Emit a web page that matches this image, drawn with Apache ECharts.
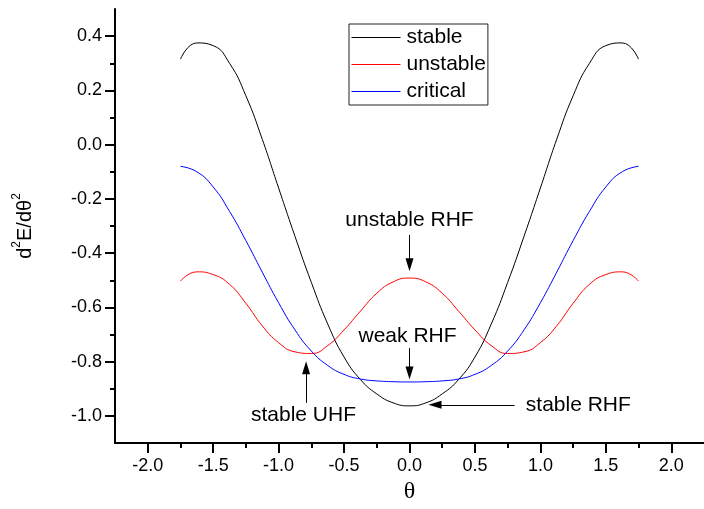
<!DOCTYPE html>
<html>
<head>
<meta charset="utf-8">
<script src="https://cdn.jsdelivr.net/npm/echarts@6/dist/echarts.min.js"></script>
<style>html,body{margin:0;padding:0;background:#fff;}#c{width:704px;height:509px;}</style>
</head>
<body>
<div id="c"></div>
<script>
const theta = [-1.75,-1.625,-1.5,-1.375,-1.25,-1.125,-1.0,-0.875,-0.75,-0.625,-0.5,-0.375,-0.25,-0.125,0,
  0.125,0.25,0.375,0.5,0.625,0.75,0.875,1.0,1.125,1.25,1.375,1.5,1.625,1.75];
const stable = [0.315,0.375,0.365,0.300,0.180,0.020,-0.160,-0.338,-0.508,-0.661,-0.783,-0.866,-0.919,-0.952,-0.963,
  -0.952,-0.919,-0.866,-0.783,-0.661,-0.508,-0.338,-0.160,0.020,0.180,0.300,0.365,0.375,0.315];
const unstable = [-0.503,-0.469,-0.479,-0.515,-0.585,-0.668,-0.730,-0.764,-0.770,-0.741,-0.683,-0.614,-0.548,-0.506,-0.492,
  -0.506,-0.548,-0.614,-0.683,-0.741,-0.770,-0.764,-0.730,-0.668,-0.585,-0.515,-0.479,-0.469,-0.503];
const critical = [-0.080,-0.100,-0.156,-0.246,-0.354,-0.470,-0.583,-0.683,-0.761,-0.814,-0.847,-0.864,-0.871,-0.874,-0.875,
  -0.874,-0.871,-0.864,-0.847,-0.814,-0.761,-0.683,-0.583,-0.470,-0.354,-0.246,-0.156,-0.100,-0.080];
const xMajorTicks = [-2.0,-1.5,-1.0,-0.5,0.0,0.5,1.0,1.5,2.0];
const xMinorTicks = [-1.75,-1.25,-0.75,-0.25,0.25,0.75,1.25,1.75];
const yMajorTicks = [-1.0,-0.8,-0.6,-0.4,-0.2,0.0,0.2,0.4];
const yMinorTicks = [-0.9,-0.7,-0.5,-0.3,-0.1,0.1,0.3];
const seriesNames = ['stable','unstable','critical'];
const seriesColors = ['#000000','#ff0000','#0000ff'];
// annotations: [label, x, y]
const notes = [['unstable RHF',0,-0.28],['weak RHF',-0.015,-0.707],['stable UHF',-0.81,-0.996],['stable RHF',1.29,-0.962]];
// arrows: [x0,y0,x1,y1] (tip at x1,y1)
const arrows = [[0,-0.333,0,-0.443],[0,-0.75,0,-0.842],[-0.79,-0.952,-0.79,-0.823],[0.803,-0.959,0.195,-0.959]];

const FONT = 'Liberation Sans, Arial, sans-serif';
const chart = echarts.init(document.getElementById('c'), null, {renderer:'canvas'});
const toPairs = arr => theta.map((t,i)=>[t,arr[i]]);
const fmt1 = v => Number(v).toFixed(1);

const baseX = {type:'value', min:-2.25, max:2.25, position:'bottom', splitLine:{show:false}};
const baseY = {type:'value', min:-1.1, max:0.5, position:'left', splitLine:{show:false}};

const lineSeries = seriesNames.map((n,i)=>({
  name:n, type:'line', data:toPairs([stable,unstable,critical][i]), smooth:true, color:seriesColors[i],
  symbol:'none', lineStyle:{color:seriesColors[i], width:1}, itemStyle:{color:seriesColors[i]},
  xAxisIndex:0, yAxisIndex:0, silent:true, z:3
}));

chart.setOption({
  animation:false,
  backgroundColor:'#fff',
  grid:{left:115, top:9, right:-5, bottom:66, containLabel:false},
  legend:{
    data:seriesNames.map((n,i)=>({name:n, lineStyle:{color:seriesColors[i], width:1}})),
    orient:'vertical', left:349, top:24,
    itemWidth:49, itemHeight:14, itemGap:6, padding:[3,2,3,2],
    itemStyle:{opacity:0, borderWidth:0},
    lineStyle:{width:1},
    borderColor:'#222', borderWidth:1, backgroundColor:'#fff',
    textStyle:{fontFamily:FONT, fontSize:21, color:'#000', lineHeight:21, padding:[0,0,0,1]}
  },
  xAxis:[
    Object.assign({}, baseX, {
      name:'θ', nameLocation:'middle', nameGap:32,
      nameTextStyle:{fontFamily:'Liberation Serif, Times New Roman, serif', fontSize:24, color:'#000'},
      axisLine:{show:true, onZero:false, lineStyle:{color:'#000', width:2}},
      axisTick:{show:true, inside:false, length:10, customValues:xMajorTicks, lineStyle:{color:'#000', width:2}},
      axisLabel:{show:true, customValues:xMajorTicks, formatter:fmt1, margin:14, fontFamily:FONT, fontSize:18, color:'#000'}
    }),
    Object.assign({}, baseX, {
      axisLine:{show:false, onZero:false},
      axisTick:{show:true, inside:false, length:5, customValues:xMinorTicks, lineStyle:{color:'#000', width:2}},
      axisLabel:{show:false}
    })
  ],
  yAxis:[
    Object.assign({}, baseY, {
      name:'{n|d}{s|2}{n|E/dθ}{s|2}', nameLocation:'middle', nameGap:80, nameRotate:90,
      nameTextStyle:{fontFamily:FONT, color:'#000', rich:{
        n:{fontFamily:FONT, fontSize:20, color:'#000', lineHeight:24, verticalAlign:'bottom'},
        s:{fontFamily:FONT, fontSize:12, color:'#000', lineHeight:24, verticalAlign:'top'}
      }},
      axisLine:{show:true, onZero:false, lineStyle:{color:'#000', width:2}},
      axisTick:{show:true, inside:false, length:10, customValues:yMajorTicks, lineStyle:{color:'#000', width:2}},
      axisLabel:{show:true, customValues:yMajorTicks, formatter:fmt1, margin:13, fontFamily:FONT, fontSize:18, color:'#000'}
    }),
    Object.assign({}, baseY, {
      axisLine:{show:false, onZero:false},
      axisTick:{show:true, inside:false, length:5, customValues:yMinorTicks, lineStyle:{color:'#000', width:2}},
      axisLabel:{show:false}
    })
  ],
  series: lineSeries.concat([{
    name:'notes', type:'scatter', xAxisIndex:0, yAxisIndex:0, silent:true, z:5,
    symbolSize:0,
    data: notes.map(n=>({name:n[0], value:[n[1],n[2]]})),
    label:{show:true, position:'inside', formatter:'{b}', fontFamily:FONT, fontSize:21, color:'#000',
      textBorderWidth:0, opacity:1},
    markLine:{
      silent:true, animation:false, symbol:['none','triangle'],
      lineStyle:{color:'#000', width:1, type:'solid'},
      label:{show:false},
      data: arrows.map(a=>[{coord:[a[0],a[1]], symbol:'none'},{coord:[a[2],a[3]], symbol:'triangle', symbolSize:[8,13]}])
    }
  }])
});
</script>
</body>
</html>
